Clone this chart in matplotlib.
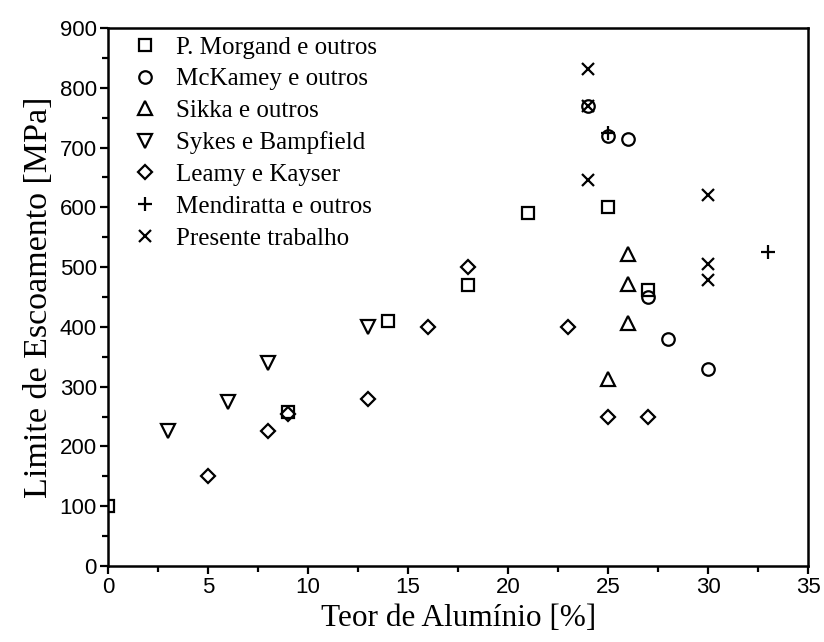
import matplotlib
matplotlib.use('Agg')
import matplotlib.pyplot as plt
from matplotlib.ticker import MultipleLocator

# yield strength [MPa] vs aluminium content [%]
morgand_x = [0, 9, 14, 18, 21, 25, 27]
morgand_y = [100, 258, 410, 470, 590, 600, 462]

mckamey_x = [24, 25, 26, 27, 28, 30]
mckamey_y = [770, 720, 715, 450, 380, 330]

sikka_x = [26, 26, 26, 25]
sikka_y = [522, 472, 407, 313]

sykes_x = [3, 6, 8, 13]
sykes_y = [225, 275, 340, 400]

leamy_x = [5, 8, 9, 13, 16, 18, 23, 25, 27]
leamy_y = [150, 225, 255, 280, 400, 500, 400, 250, 250]

mendiratta_x = [25, 33]
mendiratta_y = [725, 525]

presente_x = [24, 24, 24, 30, 30, 30]
presente_y = [832, 770, 645, 620, 505, 478]

serif = ['Liberation Serif', 'DejaVu Serif']
sans = ['Liberation Sans', 'DejaVu Sans']

fig = plt.figure(figsize=(8.24, 6.42), dpi=100)
ax = fig.add_axes([0.131, 0.1184, 0.85, 0.838])

style = dict(linestyle='none', mfc='none', mec='black', mew=1.6, color='black')
ax.plot(morgand_x, morgand_y, marker='s', ms=8, label='P. Morgand e outros', **style)
ax.plot(mckamey_x, mckamey_y, marker='o', ms=9, label='McKamey e outros', **style)
ax.plot(sikka_x, sikka_y, marker='^', ms=9.5, label='Sikka e outros', **style)
ax.plot(sykes_x, sykes_y, marker='v', ms=9.5, label='Sykes e Bampfield', **style)
ax.plot(leamy_x, leamy_y, marker='D', ms=7.5, label='Leamy e Kayser', **style)
ax.plot(mendiratta_x, mendiratta_y, marker='+', ms=10, label='Mendiratta e outros', **style)
ax.plot(presente_x, presente_y, marker='x', ms=9, label='Presente trabalho', **style)

ax.set_xlim(0, 35)
ax.set_ylim(0, 900)
ax.xaxis.set_major_locator(MultipleLocator(5))
ax.xaxis.set_minor_locator(MultipleLocator(2.5))
ax.yaxis.set_major_locator(MultipleLocator(100))
ax.yaxis.set_minor_locator(MultipleLocator(50))
ax.tick_params(which='both', direction='out', top=False, right=False, width=1.6)
ax.tick_params(which='major', length=6, labelsize=16, pad=2)
ax.tick_params(which='minor', length=4)
for lab in ax.get_xticklabels() + ax.get_yticklabels():
    lab.set_family(sans)
for sp in ax.spines.values():
    sp.set_linewidth(1.8)

ax.set_xlabel('Teor de Alumínio [%]', family=serif, fontsize=22.5, labelpad=4)
ax.set_ylabel('Limite de Escoamento [MPa]', family=serif, fontsize=24.5, labelpad=4)

ax.legend(loc='upper left', frameon=False, prop={'family': serif, 'size': 18},
          handletextpad=0.75, handlelength=1.0, labelspacing=0.37,
          borderaxespad=0.0, borderpad=0.0, bbox_to_anchor=(0.035, 0.985))

fig.savefig('out.png', dpi=100)
